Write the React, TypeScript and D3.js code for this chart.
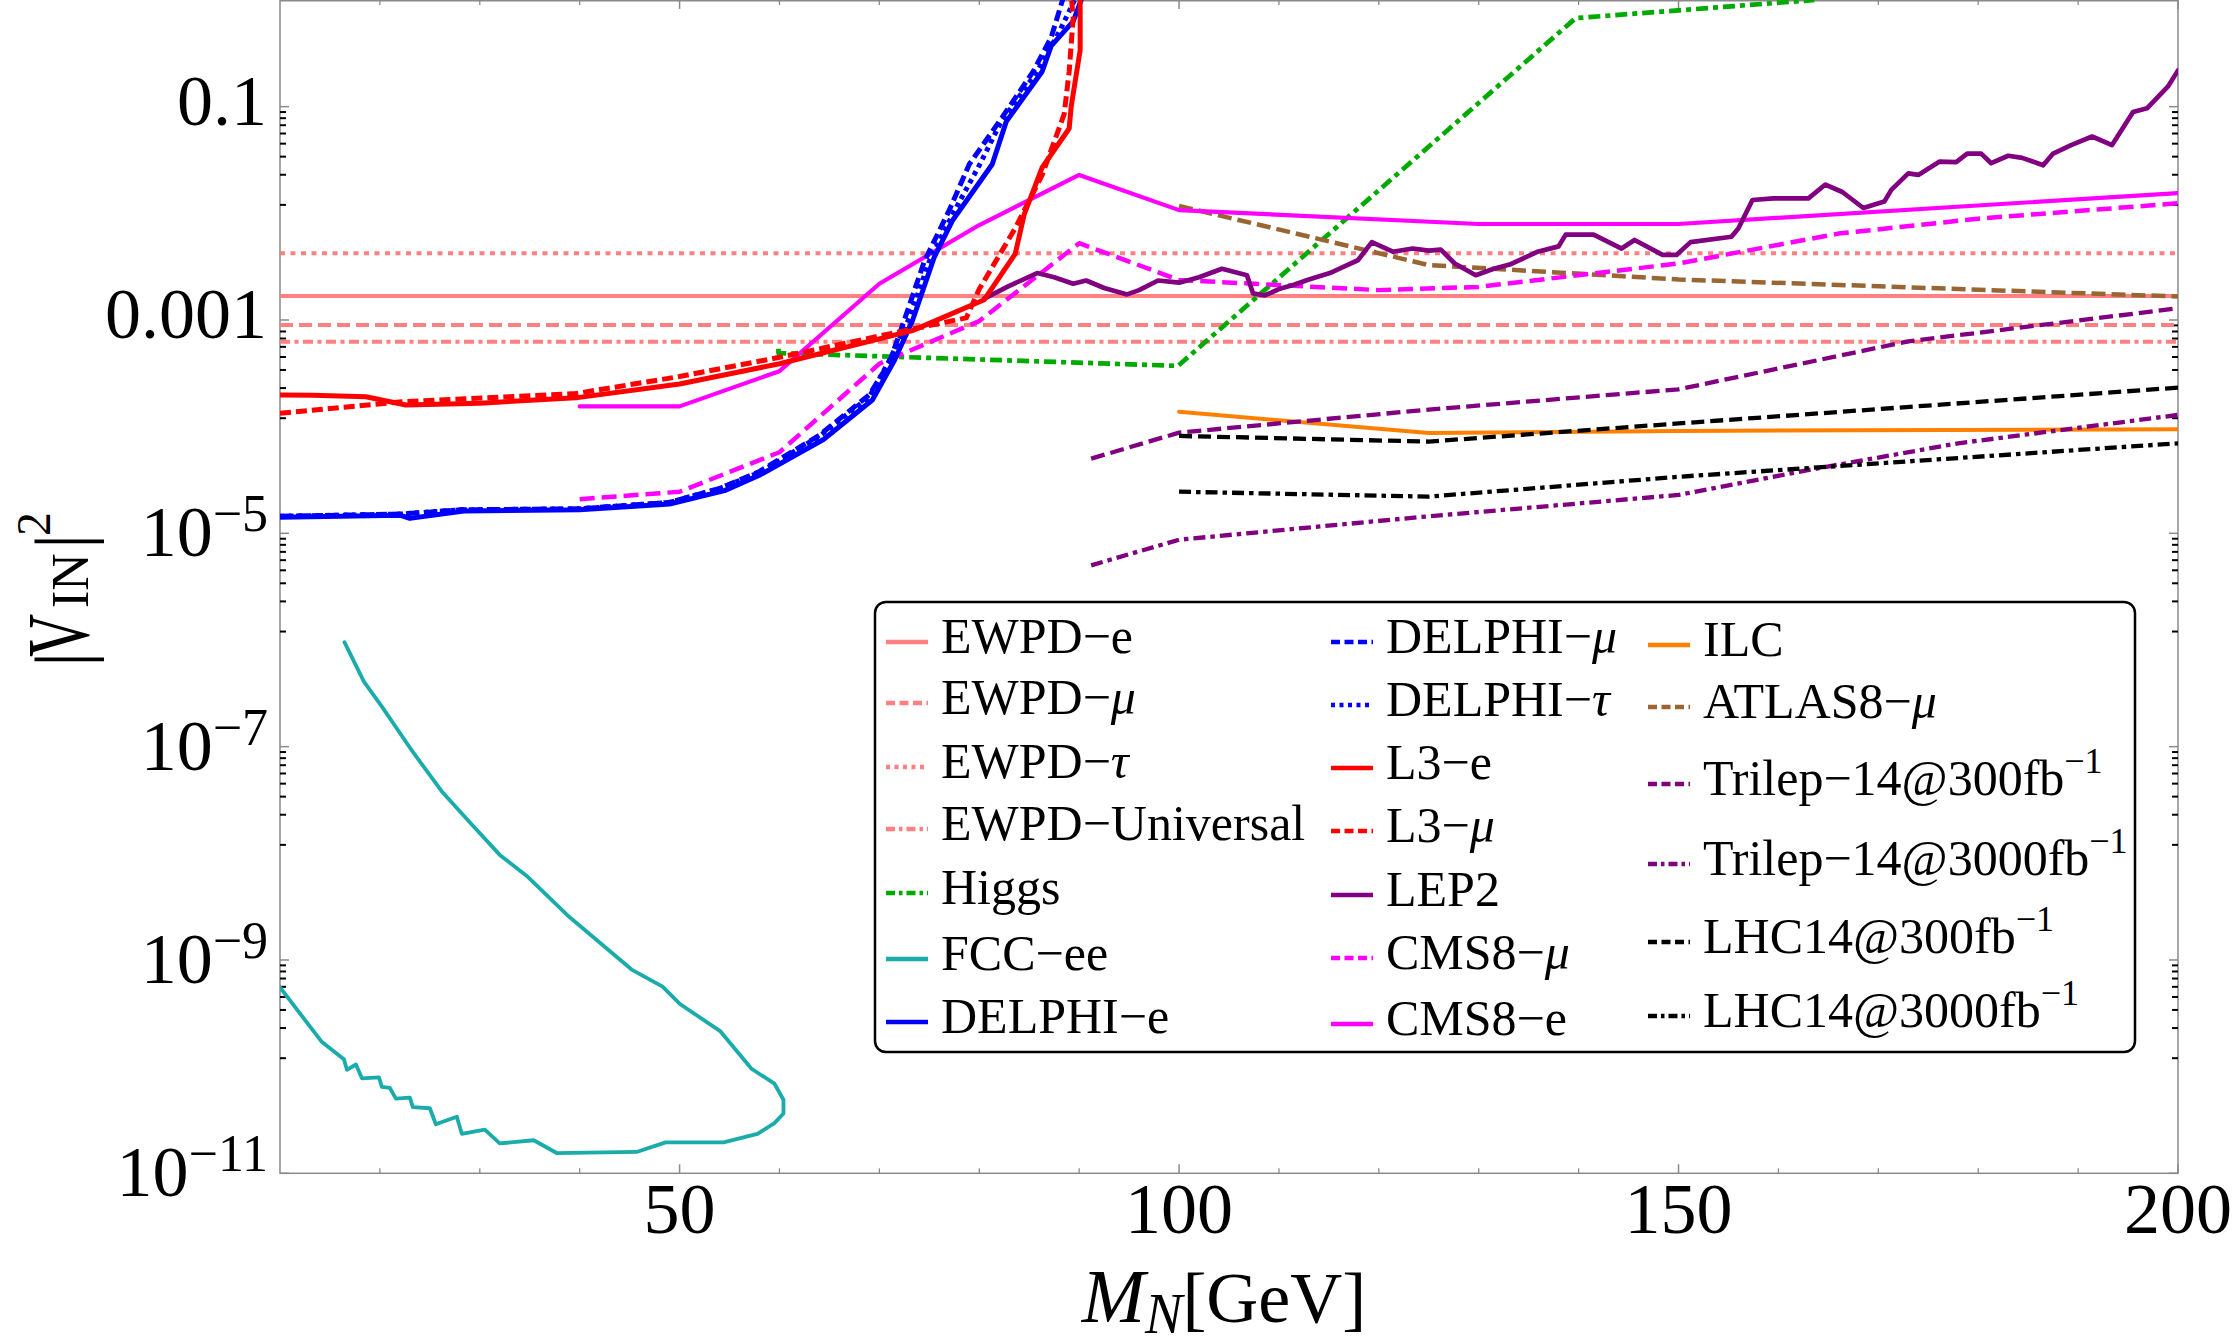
import React from 'react';
import * as d3 from 'd3';

// ---------- DATA (mass in GeV, log10 |V_IN|^2) ----------
const ewpdE: [number, number][] = [[10, -2.775], [200, -2.775]];
const ewpdMu: [number, number][] = [[10, -3.047], [200, -3.047]];
const ewpdTau: [number, number][] = [[10, -2.375], [200, -2.375]];
const ewpdUniversal: [number, number][] = [[10, -3.203], [200, -3.203]];

const higgs: [number, number][] = [[59.9, -3.27], [59.9, -3.31], [99.9, -3.43], [139.7, -0.17], [163.6, 0]];

const fccee: [number, number][] = [
  [16.45, -6.02], [18.4, -6.39], [20.2, -6.625], [23.3, -7.05], [26.2, -7.42], [28.9, -7.7], [32.0, -8.015],
  [34.8, -8.22], [39, -8.6], [45.2, -9.09], [48.3, -9.25], [50, -9.41], [54.1, -9.67], [57.2, -10.02],
  [59.5, -10.16], [60.4, -10.31], [60.4, -10.44], [59.5, -10.53], [57.8, -10.63], [54.4, -10.71],
  [48.6, -10.71], [45.7, -10.8], [37.7, -10.81], [35.4, -10.69], [32, -10.72], [30.5, -10.59],
  [28.2, -10.63], [27.7, -10.47], [25.6, -10.54], [25, -10.39], [23.3, -10.38], [23, -10.29],
  [21.6, -10.3], [21, -10.2], [20.2, -10.19], [19.9, -10.1], [18.2, -10.11], [17.6, -9.98],
  [16.7, -10.03], [16.4, -9.93], [14.2, -9.77], [10.1, -9.27], [9.5, -9.2]
];

const delphiE: [number, number][] = [
  [10, -4.85], [16, -4.84], [22, -4.83], [23, -4.86], [28.4, -4.79], [40, -4.78], [49, -4.725], [54.5, -4.6],
  [58.1, -4.45], [64.4, -4.12], [69.3, -3.75], [71.5, -3.38], [73.3, -3.01], [75.5, -2.41], [77.3, -2.07],
  [81.3, -1.54], [82.7, -1.14], [86.3, -0.67], [87.2, -0.43], [89.4, -0.2], [90.4, 0.05]
];
const delphiMu: [number, number][] = [
  [10, -4.84], [22, -4.82], [28, -4.78], [40, -4.77], [49, -4.71], [54, -4.58], [58, -4.42], [64, -4.08],
  [69, -3.7], [71, -3.4], [72.5, -3.0], [74.5, -2.45], [77, -1.97], [79, -1.54], [82, -1.14], [85.4, -0.67],
  [87.2, -0.35], [88.5, 0.05]
];
const delphiTau: [number, number][] = [
  [10, -4.84], [22, -4.82], [28, -4.78], [40, -4.77], [49, -4.71], [54, -4.58], [58, -4.43], [64, -4.09],
  [69, -3.72], [71, -3.38], [73, -2.98], [75, -2.45], [77.5, -1.98], [80, -1.55], [82.2, -1.14], [85.8, -0.67],
  [88, -0.3], [89.8, 0.05]
];

const l3E: [number, number][] = [
  [10, -3.703], [13.3, -3.705], [18.6, -3.72], [22.6, -3.797], [30, -3.78], [39.6, -3.73], [50, -3.6],
  [60, -3.41], [73.3, -3.1], [80.5, -2.81], [83.6, -2.38], [84.5, -2.01], [86.3, -1.57], [89, -1.205],
  [89.2, -1.0], [90.1, -0.47], [90.1, 0.05]
];
const l3Mu: [number, number][] = [
  [10, -3.875], [22.2, -3.766], [39.6, -3.69], [50, -3.53], [60, -3.35], [71, -3.13], [78.7, -2.98],
  [80, -2.71], [83.6, -2.14], [86.3, -1.64], [88.5, -1.07], [89, -0.67], [89.4, -0.17], [89.2, 0.05]
];

const lep2: [number, number][] = [
  [80.5, -2.8], [83, -2.68], [85.8, -2.56], [87.5, -2.6], [89.4, -2.66], [90.7, -2.63], [92.5, -2.7],
  [94.8, -2.76], [96, -2.72], [97.9, -2.63], [100, -2.65], [102, -2.6], [104.3, -2.52], [106.8, -2.58],
  [107.4, -2.75], [108.6, -2.77], [110, -2.71], [111.5, -2.67], [113, -2.62], [115.1, -2.56], [116.5, -2.5],
  [117.9, -2.44], [119.3, -2.27], [121.4, -2.36], [123.4, -2.33], [125, -2.35], [126.2, -2.34],
  [127.6, -2.47], [129.7, -2.58], [131.5, -2.52], [133.1, -2.48], [135.9, -2.36], [138, -2.31],
  [138.7, -2.2], [141.5, -2.2], [144.3, -2.33], [145.6, -2.25], [148.4, -2.39], [149.8, -2.39],
  [151.2, -2.27], [155.3, -2.22], [156, -2.14], [157.4, -1.875], [159.5, -1.86], [163, -1.86],
  [164.7, -1.73], [166.4, -1.8], [168.5, -1.95], [170.6, -1.89], [171.3, -1.78], [173, -1.625],
  [174, -1.64], [176.1, -1.516], [177.8, -1.52], [178.9, -1.44], [180.3, -1.44], [181.3, -1.53],
  [183, -1.46], [184.4, -1.48], [186.5, -1.55], [187.5, -1.44], [189.3, -1.36], [191.4, -1.28],
  [193.4, -1.36], [195.5, -1.05], [196.9, -1.015], [199, -0.81], [200, -0.66]
];

const cms8Mu: [number, number][] = [
  [40, -4.68], [50, -4.61], [60, -4.24], [70, -3.41], [80, -3.01], [90, -2.28], [100, -2.625],
  [120, -2.72], [130, -2.69], [150, -2.47], [166, -2.19], [180, -2.05], [200, -1.906]
];
const cms8E: [number, number][] = [
  [40, -3.81], [50, -3.81], [60, -3.48], [70, -2.66], [80, -2.11], [90, -1.64], [100, -1.97],
  [130, -2.1], [150, -2.1], [200, -1.81]
];

const ilc: [number, number][] = [[100, -3.86], [125, -4.06], [150, -4.04], [200, -4.025]];
const atlas8Mu: [number, number][] = [[100, -1.93], [125, -2.485], [150, -2.62], [200, -2.78]];
const trilep300: [number, number][] = [[91.2, -4.3], [100, -4.056], [125, -3.84], [150, -3.65], [173, -3.2], [200, -2.89]];
const trilep3000: [number, number][] = [[91.2, -5.3], [100, -5.06], [125, -4.84], [150, -4.64], [162.8, -4.41], [178, -4.156], [200, -3.89]];
const lhc300: [number, number][] = [[100, -4.087], [125, -4.14], [150, -3.97], [200, -3.634]];
const lhc3000: [number, number][] = [[100, -4.61], [125, -4.656], [150, -4.47], [200, -4.156]];

const xMajorTicks = [50, 100, 150, 200];
const xMinorTicks = [20, 30, 40, 60, 70, 80, 90, 110, 120, 130, 140, 160, 170, 180, 190];
const yMajorTicks = [1e-11, 1e-9, 1e-7, 1e-5, 1e-3, 1e-1];
const yTickLabels: [string, string | null][] = [["10", "−11"], ["10", "−9"], ["10", "−7"], ["10", "−5"], ["0.001", null], ["0.1", null]];

// ---------- STYLES ----------
const C = {
  ewpd: '#ff8080', higgs: '#00aa00', fcc: '#1aabab', delphi: '#0000ff', l3: '#ff0000',
  lep2: '#800080', cms: '#ff00ff', ilc: '#ff8000', atlas: '#996633', trilep: '#800080', lhc: '#000000'
};
type DashKind = 'solid' | 'dashed' | 'dotted' | 'dashdot';
const LDASH: Record<DashKind, string | undefined> = { solid: undefined, dashed: '9,4.5', dotted: '4,4.5', dashdot: '9,4,3.5,4' };

interface Series { label: (string | { t: string; it?: boolean; sup?: boolean })[]; pts: [number, number][]; color: string; dash: DashKind; da?: string; w: number; }

const FONT = '"Liberation Serif", "Times New Roman", "DejaVu Serif", serif';
const mu = { t: 'μ', it: true };
const tau = { t: 'τ', it: true };
const inv = { t: '−1', sup: true };

const S: Record<string, Series> = {
  ewpdE: { label: ['EWPD−e'], pts: ewpdE, color: C.ewpd, dash: 'solid', w: 4 },
  ewpdMu: { label: ['EWPD−', mu], pts: ewpdMu, color: C.ewpd, dash: 'dashed', da: '13,6', w: 4 },
  ewpdTau: { label: ['EWPD−', tau], pts: ewpdTau, color: C.ewpd, dash: 'dotted', da: '5,5.5', w: 4 },
  ewpdU: { label: ['EWPD−Universal'], pts: ewpdUniversal, color: C.ewpd, dash: 'dashdot', da: '10,4.5,4,4.5', w: 4 },
  higgs: { label: ['Higgs'], pts: higgs, color: C.higgs, dash: 'dashdot', da: '12,5,5,5', w: 4.7 },
  fcc: { label: ['FCC−ee'], pts: fccee, color: C.fcc, dash: 'solid', w: 3.8 },
  delphiE: { label: ['DELPHI−e'], pts: delphiE, color: C.delphi, dash: 'solid', w: 5 },
  delphiMu: { label: ['DELPHI−', mu], pts: delphiMu, color: C.delphi, dash: 'dashed', da: '11,5', w: 5 },
  delphiTau: { label: ['DELPHI−', tau], pts: delphiTau, color: C.delphi, dash: 'dotted', da: '4.5,4.5', w: 5 },
  l3E: { label: ['L3−e'], pts: l3E, color: C.l3, dash: 'solid', w: 5 },
  l3Mu: { label: ['L3−', mu], pts: l3Mu, color: C.l3, dash: 'dashed', da: '11,5', w: 5 },
  lep2: { label: ['LEP2'], pts: lep2, color: C.lep2, dash: 'solid', w: 4.7 },
  cmsMu: { label: ['CMS8−', mu], pts: cms8Mu, color: C.cms, dash: 'dashed', da: '15,7', w: 4.5 },
  cmsE: { label: ['CMS8−e'], pts: cms8E, color: C.cms, dash: 'solid', w: 4.2 },
  ilc: { label: ['ILC'], pts: ilc, color: C.ilc, dash: 'solid', w: 4 },
  atlas: { label: ['ATLAS8−', mu], pts: atlas8Mu, color: C.atlas, dash: 'dashed', da: '14,6', w: 4.5 },
  tri300: { label: ['Trilep−14@300fb', inv], pts: trilep300, color: C.trilep, dash: 'dashed', da: '14,6', w: 4.3 },
  tri3000: { label: ['Trilep−14@3000fb', inv], pts: trilep3000, color: C.trilep, dash: 'dashdot', da: '12,5,4.5,5', w: 4.3 },
  lhc300: { label: ['LHC14@300fb', inv], pts: lhc300, color: C.lhc, dash: 'dashed', da: '13,6', w: 4.3 },
  lhc3000: { label: ['LHC14@3000fb', inv], pts: lhc3000, color: C.lhc, dash: 'dashdot', da: '12,5,4.5,5', w: 4.3 },
};

const drawOrder = ['ewpdE', 'ewpdMu', 'ewpdTau', 'ewpdU', 'higgs', 'fcc', 'ilc', 'atlas', 'tri300', 'tri3000',
  'lhc300', 'lhc3000', 'cmsMu', 'cmsE', 'lep2', 'delphiE', 'delphiMu', 'delphiTau', 'l3E', 'l3Mu'];

const legendCols: { keys: string[]; sx: number; rows: number[] }[] = [
  { keys: ['ewpdE', 'ewpdMu', 'ewpdTau', 'ewpdU', 'higgs', 'fcc', 'delphiE'], sx: 886, rows: [642, 703, 767, 829, 893, 959, 1022] },
  { keys: ['delphiMu', 'delphiTau', 'l3E', 'l3Mu', 'lep2', 'cmsMu', 'cmsE'], sx: 1331, rows: [642, 705, 768, 831, 895, 958, 1024] },
  { keys: ['ilc', 'atlas', 'tri300', 'tri3000', 'lhc300', 'lhc3000'], sx: 1648, rows: [645, 707, 784, 864, 942, 1016] },
];

export default function App() {
  const L = 280, R = 2178, T = 0, B = 1173.3;
  const x = d3.scaleLinear().domain([10, 200]).range([L, R]);
  const y = d3.scaleLog().domain([1e-11, 1]).range([B, T]);
  const line = d3.line<[number, number]>().x(d => x(d[0])).y(d => y(Math.pow(10, d[1])));

  const yMinor: number[] = [];
  for (let i = 0; i < yMajorTicks.length - 1; i++) {
    const a = yMajorTicks[i], b = yMajorTicks[i + 1];
    for (let k = 1; k <= 8; k++) yMinor.push(a + (k * (b - a)) / 9);
  }
  const frame = '#8a8a8a';

  return (
    <svg width={2236} height={1344} style={{ position: 'absolute', left: 0, top: 0, background: '#fff' }} fontFamily={FONT}>
      <rect x={0} y={0} width={2236} height={1344} fill="#fff" />
      <defs>
        <clipPath id="plot"><rect x={L} y={T} width={R - L} height={B - T} /></clipPath>
      </defs>

      {/* frame */}
      <rect x={L} y={T + 0.75} width={R - L} height={B - T - 0.75} fill="none" stroke={frame} strokeWidth={1.5} />

      {/* x ticks bottom & top */}
      {xMajorTicks.map(v => (
        <g key={'xm' + v}>
          <line x1={x(v)} x2={x(v)} y1={B} y2={B - 9} stroke={frame} strokeWidth={1.5} />
          <line x1={x(v)} x2={x(v)} y1={T} y2={T + 9} stroke={frame} strokeWidth={1.5} />
          <text x={x(v)} y={1233} fontSize={72} textAnchor="middle">{v}</text>
        </g>
      ))}
      {xMinorTicks.map(v => (
        <g key={'xn' + v}>
          <line x1={x(v)} x2={x(v)} y1={B} y2={B - 5} stroke={frame} strokeWidth={1.3} />
          <line x1={x(v)} x2={x(v)} y1={T} y2={T + 5} stroke={frame} strokeWidth={1.3} />
        </g>
      ))}

      {/* y ticks left & right */}
      {yMajorTicks.map((v, i) => (
        <g key={'ym' + i}>
          <line x1={L} x2={L + 9} y1={y(v)} y2={y(v)} stroke={frame} strokeWidth={1.5} />
          <line x1={R} x2={R - 9} y1={y(v)} y2={y(v)} stroke={frame} strokeWidth={1.5} />
          {yTickLabels[i][1] === null ? (
            <text x={267} y={y(v) + 18} fontSize={72} textAnchor="end">{yTickLabels[i][0]}</text>
          ) : (
            <text x={268} y={y(v) + 23} fontSize={72} textAnchor="end">
              {yTickLabels[i][0]}
              <tspan dy={-25} fontSize={52}>{yTickLabels[i][1]}</tspan>
            </text>
          )}
        </g>
      ))}
      {yMinor.map((v, i) => (
        <g key={'yn' + i}>
          <line x1={L} x2={L + 6} y1={y(v)} y2={y(v)} stroke="#000" strokeWidth={2} />
          <line x1={R} x2={R - 6} y1={y(v)} y2={y(v)} stroke="#000" strokeWidth={2} />
        </g>
      ))}

      {/* data */}
      <g clipPath="url(#plot)">
        {drawOrder.map(k => {
          const s = S[k];
          return (
            <path key={k} d={line(s.pts) || ''} fill="none" stroke={s.color} strokeWidth={s.w}
              strokeDasharray={s.da} strokeLinejoin="round" strokeLinecap={s.dash === 'solid' ? 'round' : 'butt'} />
          );
        })}
      </g>

      {/* x axis title */}
      <text x={1224} y={1322} fontSize={72} textAnchor="middle">
        <tspan fontStyle="italic" fontSize={76}>M</tspan>
        <tspan fontStyle="italic" fontSize={56} dy={11}>N</tspan>
        <tspan dy={-11}>[GeV]</tspan>
      </text>

      {/* y axis title, rotated: pieces placed along the text direction */}
      <g transform="translate(88,663) rotate(-90)">
        <text x={-4} y={0} fontSize={76}>|</text>
        <text transform="translate(6,0) scale(0.68,1)" x={0} y={0} fontSize={88}>V</text>
        <text x={55} y={0} fontSize={52}>IN</text>
        <text x={114} y={0} fontSize={76}>|</text>
        <text x={127} y={-38} fontSize={48}>2</text>
      </g>

      {/* legend */}
      <rect x={875} y={602} width={1260} height={450} rx={11} ry={11} fill="#fff" stroke="#000" strokeWidth={2.5} />
      {legendCols.map((col, ci) => col.keys.map((k, ri) => {
        const s = S[k];
        const cy = col.rows[ri];
        return (
          <g key={k + ci}>
            <line x1={col.sx} x2={col.sx + 42} y1={cy} y2={cy} stroke={s.color} strokeWidth={4.5} strokeDasharray={LDASH[s.dash]} />
            <text x={col.sx + 55} y={cy + 11} fontSize={50}>
              {s.label.map((p, pi) => typeof p === 'string' ? <tspan key={pi}>{p}</tspan> :
                p.sup ? <tspan key={pi} fontSize={36} dy={-22}>{p.t}</tspan> :
                  <tspan key={pi} fontStyle={p.it ? 'italic' : undefined}>{p.t}</tspan>)}
            </text>
          </g>
        );
      }))}
    </svg>
  );
}
